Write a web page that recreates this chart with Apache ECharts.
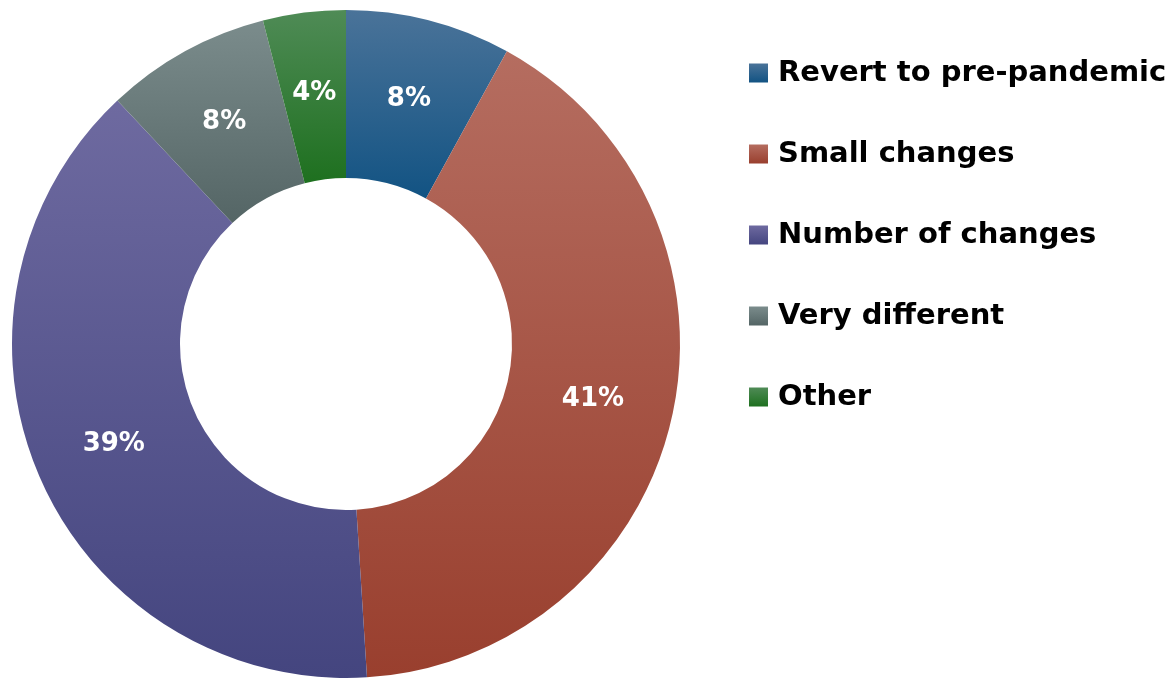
<!DOCTYPE html>
<html><head><meta charset="utf-8">
<script src="https://cdn.jsdelivr.net/npm/echarts@6/dist/echarts.min.js"></script>
<style>html,body{margin:0;padding:0;background:#fff}#c{width:1170px;height:678px}</style>
</head><body><div id="c"></div>
<script>
var categories = ['Revert to pre-pandemic', 'Small changes', 'Number of changes', 'Very different', 'Other'];
var values = [8, 41, 39, 8, 4];
var topColors = ['#4a7399', '#b56d60', '#6e6aa0', '#7b8c8c', '#4f8b56'];
var bottomColors = ['#125383', '#993f2e', '#44457f', '#546565', '#1e701f'];

function grad(i) {
  return new echarts.graphic.LinearGradient(0, 0, 0, 1, [
    {offset: 0, color: topColors[i]}, {offset: 1, color: bottomColors[i]}
  ]);
}
var data = categories.map(function (c, i) {
  return {name: c, value: values[i], itemStyle: {color: grad(i)}};
});
var chart = echarts.init(document.getElementById('c'));
chart.setOption({
  animation: false,
  legend: {
    orient: 'vertical', left: 749, top: 55, padding: 0,
    itemWidth: 19, itemHeight: 19, itemGap: 45,
    icon: 'rect',
    textStyle: {fontSize: 29, fontWeight: 'bold', fontFamily: 'DejaVu Sans', color: '#000', lineHeight: 36, padding: [0,0,0,5]},
    data: categories
  },
  series: [{
    type: 'pie',
    center: [346, 344],
    radius: [166, 334],
    startAngle: 90,
    clockwise: true,
    avoidLabelOverlap: false,
    label: {
      show: true, position: 'inside',
      formatter: function (p) { return p.value + '%'; },
      color: '#fff', fontSize: 26, fontWeight: 'bold', fontFamily: 'DejaVu Sans'
    },
    labelLine: {show: false},
    itemStyle: {borderWidth: 0},
    emphasis: {disabled: true},
    data: data
  }]
});
</script></body></html>
